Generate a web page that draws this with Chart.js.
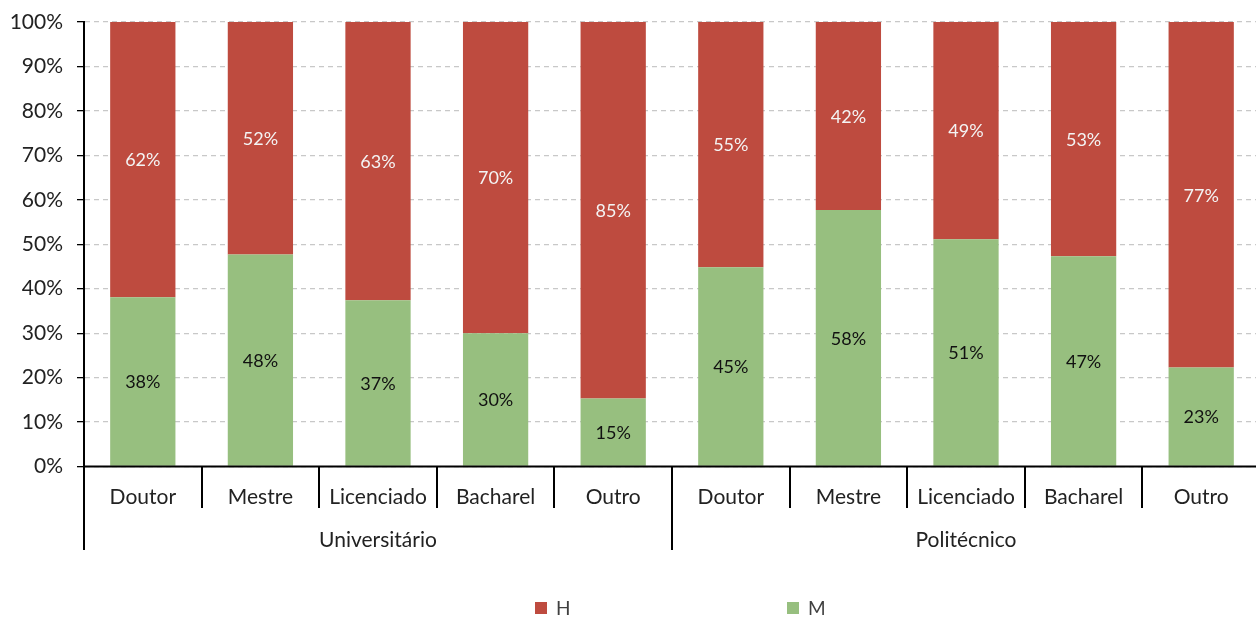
<!DOCTYPE html>
<html><head><meta charset="utf-8">
<script src="https://cdn.jsdelivr.net/npm/chart.js@4/dist/chart.umd.min.js"></script>
<style>html,body{margin:0;padding:0;background:#fff;overflow:hidden}#wrap{width:1256px;height:617px;overflow:hidden}</style>
</head><body><div id="wrap"><canvas id="c" width="1260" height="617"></canvas></div>
<script>
const categories = ["Doutor","Mestre","Licenciado","Bacharel","Outro","Doutor","Mestre","Licenciado","Bacharel","Outro"];
const groups = ["Universitário","Politécnico"];
const groupSizes = [5,5];
const seriesM = [38.1,47.7,37.4,30.0,15.3,44.8,57.7,51.1,47.3,22.3];
const seriesH = [61.9,52.3,62.6,70.0,84.7,55.2,42.3,48.9,52.7,77.7];
const labelsM = ["38%","48%","37%","30%","15%","45%","58%","51%","47%","23%"];
const labelsH = ["62%","52%","63%","70%","85%","55%","42%","49%","53%","77%"];
const yTicks = [0,10,20,30,40,50,60,70,80,90,100];

const FONT = "Lato, 'Open Sans', sans-serif";
const RED = "#be4b3f", GREEN = "#97bf7f";

const overlay = {
  id: 'overlay',
  afterDatasetsDraw(chart) {
    const ctx = chart.ctx;
    ctx.save();
    ctx.font = "18px " + FONT;
    ctx.textAlign = "center"; ctx.textBaseline = "middle";
    chart.data.datasets.forEach((ds, di) => {
      const meta = chart.getDatasetMeta(di);
      meta.data.forEach((bar, i) => {
        const y = (bar.y + bar.base) / 2;
        ctx.fillStyle = ds.labelColor;
        ctx.fillText(ds.valueLabels[i], bar.x, y + 1);
      });
    });
    ctx.restore();
  },
  afterDraw(chart) {
    const ctx = chart.ctx, xs = chart.scales.x, ca = chart.chartArea;
    const n = categories.length;
    const w = (xs.getPixelForValue(1) - xs.getPixelForValue(0));
    ctx.save();
    ctx.strokeStyle = "#000"; ctx.lineWidth = 2;
    ctx.beginPath(); ctx.moveTo(ca.left, ca.bottom); ctx.lineTo(ca.right, ca.bottom); ctx.stroke();
    let idx = 0; const groupEdges = [0];
    groupSizes.forEach(s => { idx += s; groupEdges.push(idx); });
    for (let i = 0; i <= n; i++) {
      const x = Math.round(xs.getPixelForValue(i) - w / 2);
      const isGroup = groupEdges.includes(i);
      ctx.beginPath(); ctx.moveTo(x, ca.bottom); ctx.lineTo(x, isGroup ? 550 : 508); ctx.stroke();
    }
    ctx.fillStyle = "#222";
    ctx.font = "21px " + FONT;
    ctx.textAlign = "center"; ctx.textBaseline = "middle";
    categories.forEach((c, i) => ctx.fillText(c, xs.getPixelForValue(i), 497));
    let start = 0;
    groups.forEach((g, gi) => {
      const a = xs.getPixelForValue(start) - w / 2;
      const b = xs.getPixelForValue(start + groupSizes[gi] - 1) + w / 2;
      ctx.fillText(g, (a + b) / 2, 540);
      start += groupSizes[gi];
    });
    const legendX = [535, 787];
    const order = [1, 0];
    ctx.font = "19px " + FONT;
    order.forEach((di, k) => {
      const ds = chart.data.datasets[di];
      ctx.fillStyle = ds.backgroundColor;
      ctx.fillRect(legendX[k], 602, 12, 12);
      ctx.fillStyle = "#404040";
      ctx.textAlign = "left";
      ctx.fillText(ds.label, legendX[k] + 21, 609);
    });
    ctx.restore();
  }
};

new Chart(document.getElementById('c'), {
  type: 'bar',
  data: {
    labels: categories,
    datasets: [
      { label: 'M', data: seriesM, backgroundColor: GREEN, labelColor: "#111", valueLabels: labelsM,
        barPercentage: 0.555, categoryPercentage: 1.0 },
      { label: 'H', data: seriesH, backgroundColor: RED, labelColor: "#f4f4f4", valueLabels: labelsH,
        barPercentage: 0.555, categoryPercentage: 1.0 }
    ]
  },
  options: {
    responsive: false, animation: false,
    layout: { padding: { top: 22, right: 0, left: 0, bottom: 0 } },
    plugins: { legend: { display: false }, tooltip: { enabled: false } },
    scales: {
      x: {
        stacked: true,
        ticks: { display: false },
        grid: { display: false },
        border: { display: false },
        afterFit(s) { s.height = 617 - 466.5; }
      },
      y: {
        stacked: true, min: 0, max: 100,
        afterBuildTicks(s) { s.ticks = yTicks.map(v => ({ value: v })); },
        ticks: { callback: v => v + "%", font: { size: 21, family: FONT }, color: "#222", padding: 14 },
        grid: { color: "#c8c8c8", lineWidth: 1.3, tickLength: 7, tickColor: "#000" },
        border: { display: true, color: "#000", width: 2, dash: [5, 4] },
        afterFit(s) { s.width = 84; s.paddingTop = 0; s.paddingBottom = 0; }
      }
    }
  },
  plugins: [overlay]
});
</script></body></html>
